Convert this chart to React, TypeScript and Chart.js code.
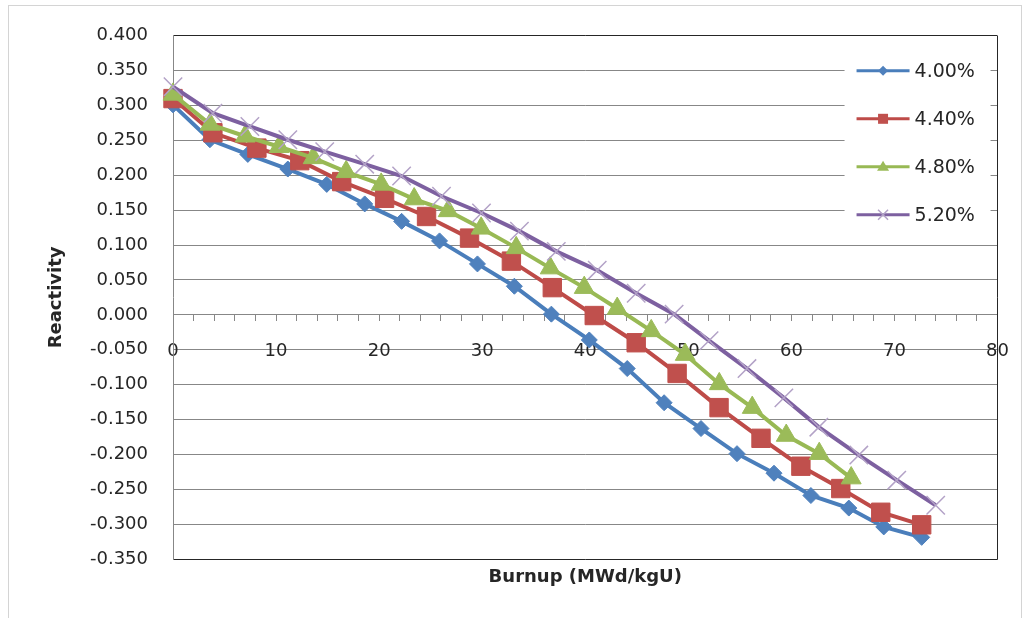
import React, { useEffect, useRef } from 'react';
import { Chart, registerables } from 'chart.js';

Chart.register(...registerables);

// ---- Data ----
const seriesLabels = ['4.00%', '4.40%', '4.80%', '5.20%'];

const burnup400 = [0, 3.58, 7.26, 11.14, 14.92, 18.6, 22.18, 25.86, 29.54, 33.12, 36.71, 40.39, 44.07, 47.65, 51.23, 54.72, 58.31, 61.89, 65.57, 68.96, 72.64];
const react400 = [0.301, 0.251, 0.23, 0.209, 0.187, 0.159, 0.134, 0.106, 0.073, 0.041, 0.001, -0.036, -0.077, -0.126, -0.163, -0.199, -0.227, -0.259, -0.277, -0.304, -0.319];

const burnup440 = [0, 3.87, 8.14, 12.3, 16.37, 20.53, 24.6, 28.77, 32.83, 36.8, 40.87, 44.94, 48.91, 52.98, 57.05, 60.92, 64.79, 68.67, 72.64];
const react440 = [0.31, 0.261, 0.239, 0.221, 0.191, 0.167, 0.141, 0.11, 0.077, 0.039, -0.001, -0.04, -0.084, -0.133, -0.177, -0.217, -0.249, -0.283, -0.301];

const burnup480 = [0, 3.6, 7.0, 10.3, 13.6, 16.8, 20.2, 23.4, 26.7, 29.9, 33.3, 36.6, 39.9, 43.1, 46.4, 49.7, 53.0, 56.2, 59.5, 62.7, 65.8];
const react480 = [0.316, 0.273, 0.256, 0.241, 0.225, 0.205, 0.187, 0.166, 0.149, 0.124, 0.096, 0.067, 0.039, 0.009, -0.023, -0.057, -0.099, -0.133, -0.173, -0.199, -0.234];

const burnup520 = [0, 3.87, 7.46, 11.14, 14.72, 18.6, 22.18, 26.05, 29.93, 33.61, 37.19, 41.16, 44.94, 48.62, 52.01, 55.69, 59.27, 62.66, 66.54, 70.22, 74.0];
const react520 = [0.327, 0.289, 0.27, 0.251, 0.234, 0.216, 0.199, 0.17, 0.146, 0.12, 0.091, 0.064, 0.031, 0.001, -0.037, -0.077, -0.119, -0.161, -0.201, -0.237, -0.273];

const xMin = 0;
const xMax = 80;
const xStep = 2;
const xLabelEvery = 10;
const yMin = -0.35;
const yMax = 0.4;
const yStep = 0.05;

const xTitle = 'Burnup (MWd/kgU)';
const yTitle = 'Reactivity';

// ---- Styles ----
const lineColors = ['#4A7EBB', '#BE4B48', '#98B954', '#7D60A0'];
const fillColors = ['#4F81BD', '#C0504D', '#9BBB59', '#B3A2C7'];
const FONT = "'DejaVu Sans', 'Liberation Sans', Arial, sans-serif";
const TEXT = '#262626';
const GRID = '#878787';
const FRAME = '#262626';

const toPts = (xs: number[], ys: number[]) => xs.map((x, i) => ({ x, y: ys[i] }));

const framePlugin = {
  id: 'plotFrame',
  beforeDatasetsDraw(chart: any) {
    const { ctx, chartArea } = chart;
    ctx.save();
    ctx.strokeStyle = FRAME;
    ctx.lineWidth = 1;
    const r = Math.round(chartArea.right) - 0.5;
    ctx.beginPath();
    ctx.moveTo(r, Math.round(chartArea.top));
    ctx.lineTo(r, Math.round(chartArea.bottom) + 0.5);
    ctx.stroke();
    ctx.restore();
  },
};

function drawMarker(ctx: CanvasRenderingContext2D, i: number, x: number, y: number) {
  ctx.save();
  ctx.fillStyle = fillColors[i];
  ctx.strokeStyle = fillColors[i];
  ctx.lineWidth = 1;
  ctx.beginPath();
  if (i === 0) {
    const r = 5;
    ctx.moveTo(x, y - r);
    ctx.lineTo(x + r, y);
    ctx.lineTo(x, y + r);
    ctx.lineTo(x - r, y);
    ctx.closePath();
    ctx.fill();
  } else if (i === 1) {
    ctx.rect(x - 5, y - 5, 10, 10);
    ctx.fill();
  } else if (i === 2) {
    ctx.moveTo(x, y - 6);
    ctx.lineTo(x + 6, y + 4);
    ctx.lineTo(x - 6, y + 4);
    ctx.closePath();
    ctx.fill();
  } else {
    ctx.lineWidth = 1.5;
    ctx.moveTo(x - 5, y - 5);
    ctx.lineTo(x + 5, y + 5);
    ctx.moveTo(x + 5, y - 5);
    ctx.lineTo(x - 5, y + 5);
    ctx.stroke();
  }
  ctx.restore();
}

const legendPlugin = {
  id: 'boxLegend',
  afterDraw(chart: any) {
    const { ctx, chartArea } = chart;
    const left = chartArea.right - 153;
    const top = chartArea.top + 15;
    ctx.save();
    ctx.fillStyle = '#ffffff';
    ctx.fillRect(left, top, 146, 185);
    seriesLabels.forEach((lab, i) => {
      const y = chartArea.top + 35 + i * 48;
      ctx.strokeStyle = lineColors[i];
      ctx.lineWidth = 3;
      ctx.beginPath();
      ctx.moveTo(left + 12, y);
      ctx.lineTo(left + 65, y);
      ctx.stroke();
      drawMarker(ctx, i, left + 38.5, y);
      ctx.fillStyle = TEXT;
      ctx.font = `19px ${FONT}`;
      ctx.textBaseline = 'middle';
      ctx.textAlign = 'left';
      ctx.fillText(lab, left + 70, y + 1);
    });
    ctx.restore();
  },
};

export default function App() {
  const ref = useRef<HTMLCanvasElement | null>(null);

  useEffect(() => {
    if (!ref.current) return;
    const chart = new Chart(ref.current, {
      type: 'line',
      data: {
        datasets: [
          {
            label: seriesLabels[0],
            data: toPts(burnup400, react400),
            xAxisID: 'x',
            yAxisID: 'y',
            borderColor: lineColors[0],
            backgroundColor: fillColors[0],
            borderWidth: 4,
            pointStyle: 'rectRot',
            pointRadius: 8,
            pointBackgroundColor: fillColors[0],
            pointBorderColor: fillColors[0],
            pointBorderWidth: 1,
            tension: 0,
            clip: false,
            order: 4,
          },
          {
            label: seriesLabels[1],
            data: toPts(burnup440, react440),
            xAxisID: 'x',
            yAxisID: 'y',
            borderColor: lineColors[1],
            backgroundColor: fillColors[1],
            borderWidth: 4,
            pointStyle: 'rect',
            pointRadius: 13,
            pointBackgroundColor: fillColors[1],
            pointBorderColor: fillColors[1],
            pointBorderWidth: 1,
            tension: 0,
            clip: false,
            order: 3,
          },
          {
            label: seriesLabels[2],
            data: toPts(burnup480, react480),
            xAxisID: 'x',
            yAxisID: 'y',
            borderColor: lineColors[2],
            backgroundColor: fillColors[2],
            borderWidth: 4,
            pointStyle: 'triangle',
            pointRadius: 11.5,
            pointBackgroundColor: fillColors[2],
            pointBorderColor: fillColors[2],
            pointBorderWidth: 1,
            tension: 0,
            clip: false,
            order: 2,
          },
          {
            label: seriesLabels[3],
            data: toPts(burnup520, react520),
            xAxisID: 'x',
            yAxisID: 'y',
            borderColor: lineColors[3],
            backgroundColor: fillColors[3],
            borderWidth: 4,
            pointStyle: 'crossRot',
            pointRadius: 13,
            pointBackgroundColor: fillColors[3],
            pointBorderColor: fillColors[3],
            pointBorderWidth: 1.5,
            tension: 0,
            clip: false,
            order: 1,
          },
        ] as any,
      },
      options: {
        animation: false,
        responsive: false,
        maintainAspectRatio: false,
        layout: { padding: { top: 34, right: 30, left: 0, bottom: 0 } },
        plugins: {
          legend: { display: false },
          tooltip: { enabled: false },
        },
        scales: {
          x: {
            type: 'linear',
            position: { y: 0 } as any,
            min: xMin,
            max: xMax,
            ticks: {
              stepSize: xStep,
              autoSkip: false,
              maxRotation: 0,
              minRotation: 0,
              padding: 20,
              color: TEXT,
              font: { family: FONT, size: 18 },
              callback: (v: any) => (Math.abs(Number(v) % xLabelEvery) < 1e-9 ? String(v) : ''),
            },
            grid: { drawOnChartArea: false, drawTicks: true, tickLength: 6, color: GRID },
            border: { display: true, color: GRID, width: 1 },
          },
          x2: {
            type: 'linear',
            position: 'bottom',
            min: xMin,
            max: xMax,
            ticks: { display: false },
            grid: { display: false },
            border: { display: false },
            title: {
              display: true,
              text: xTitle,
              color: TEXT,
              font: { family: FONT, size: 18, weight: 'bold' },
              padding: { top: 0, bottom: 30 },
            },
            afterFit: (s: any) => {
              s.height = 59;
            },
          },
          y: {
            type: 'linear',
            position: 'left',
            min: yMin,
            max: yMax,
            ticks: {
              stepSize: yStep,
              padding: 25,
              color: TEXT,
              font: { family: FONT, size: 18 },
              callback: (v: any) => {
                const n = Number(v);
                return Math.abs(n) < 1e-9 ? '0.000' : n.toFixed(3);
              },
            },
            grid: {
              drawTicks: false,
              color: (c: any) => {
                const v = c.tick ? c.tick.value : null;
                if (v != null && (Math.abs(v - yMax) < 1e-6 || Math.abs(v - yMin) < 1e-6)) return FRAME;
                return GRID;
              },
            },
            border: { display: true, color: GRID, width: 1 },
            title: {
              display: true,
              text: yTitle,
              color: TEXT,
              font: { family: FONT, size: 18, weight: 'bold' },
              padding: { top: 46, bottom: 0 },
            },
            afterFit: (s: any) => {
              s.width = 173;
            },
          },
        } as any,
      },
      plugins: [framePlugin, legendPlugin],
    });
    return () => chart.destroy();
  }, []);

  return (
    <div style={{ position: 'relative', width: 1029, height: 618, overflow: 'hidden', background: '#fff' }}>
      <style>{`html,body{margin:0;padding:0;overflow:hidden;background:#fff}`}</style>
      <div
        style={{
          position: 'absolute',
          left: 8,
          top: 5,
          width: 1014,
          height: 700,
          border: '1px solid #d4d4d4',
          boxSizing: 'border-box',
        }}
      />
      <canvas
        ref={ref}
        width={1029}
        height={618}
        style={{ position: 'absolute', left: 0, top: 0, width: 1029, height: 618 }}
      />
    </div>
  );
}
